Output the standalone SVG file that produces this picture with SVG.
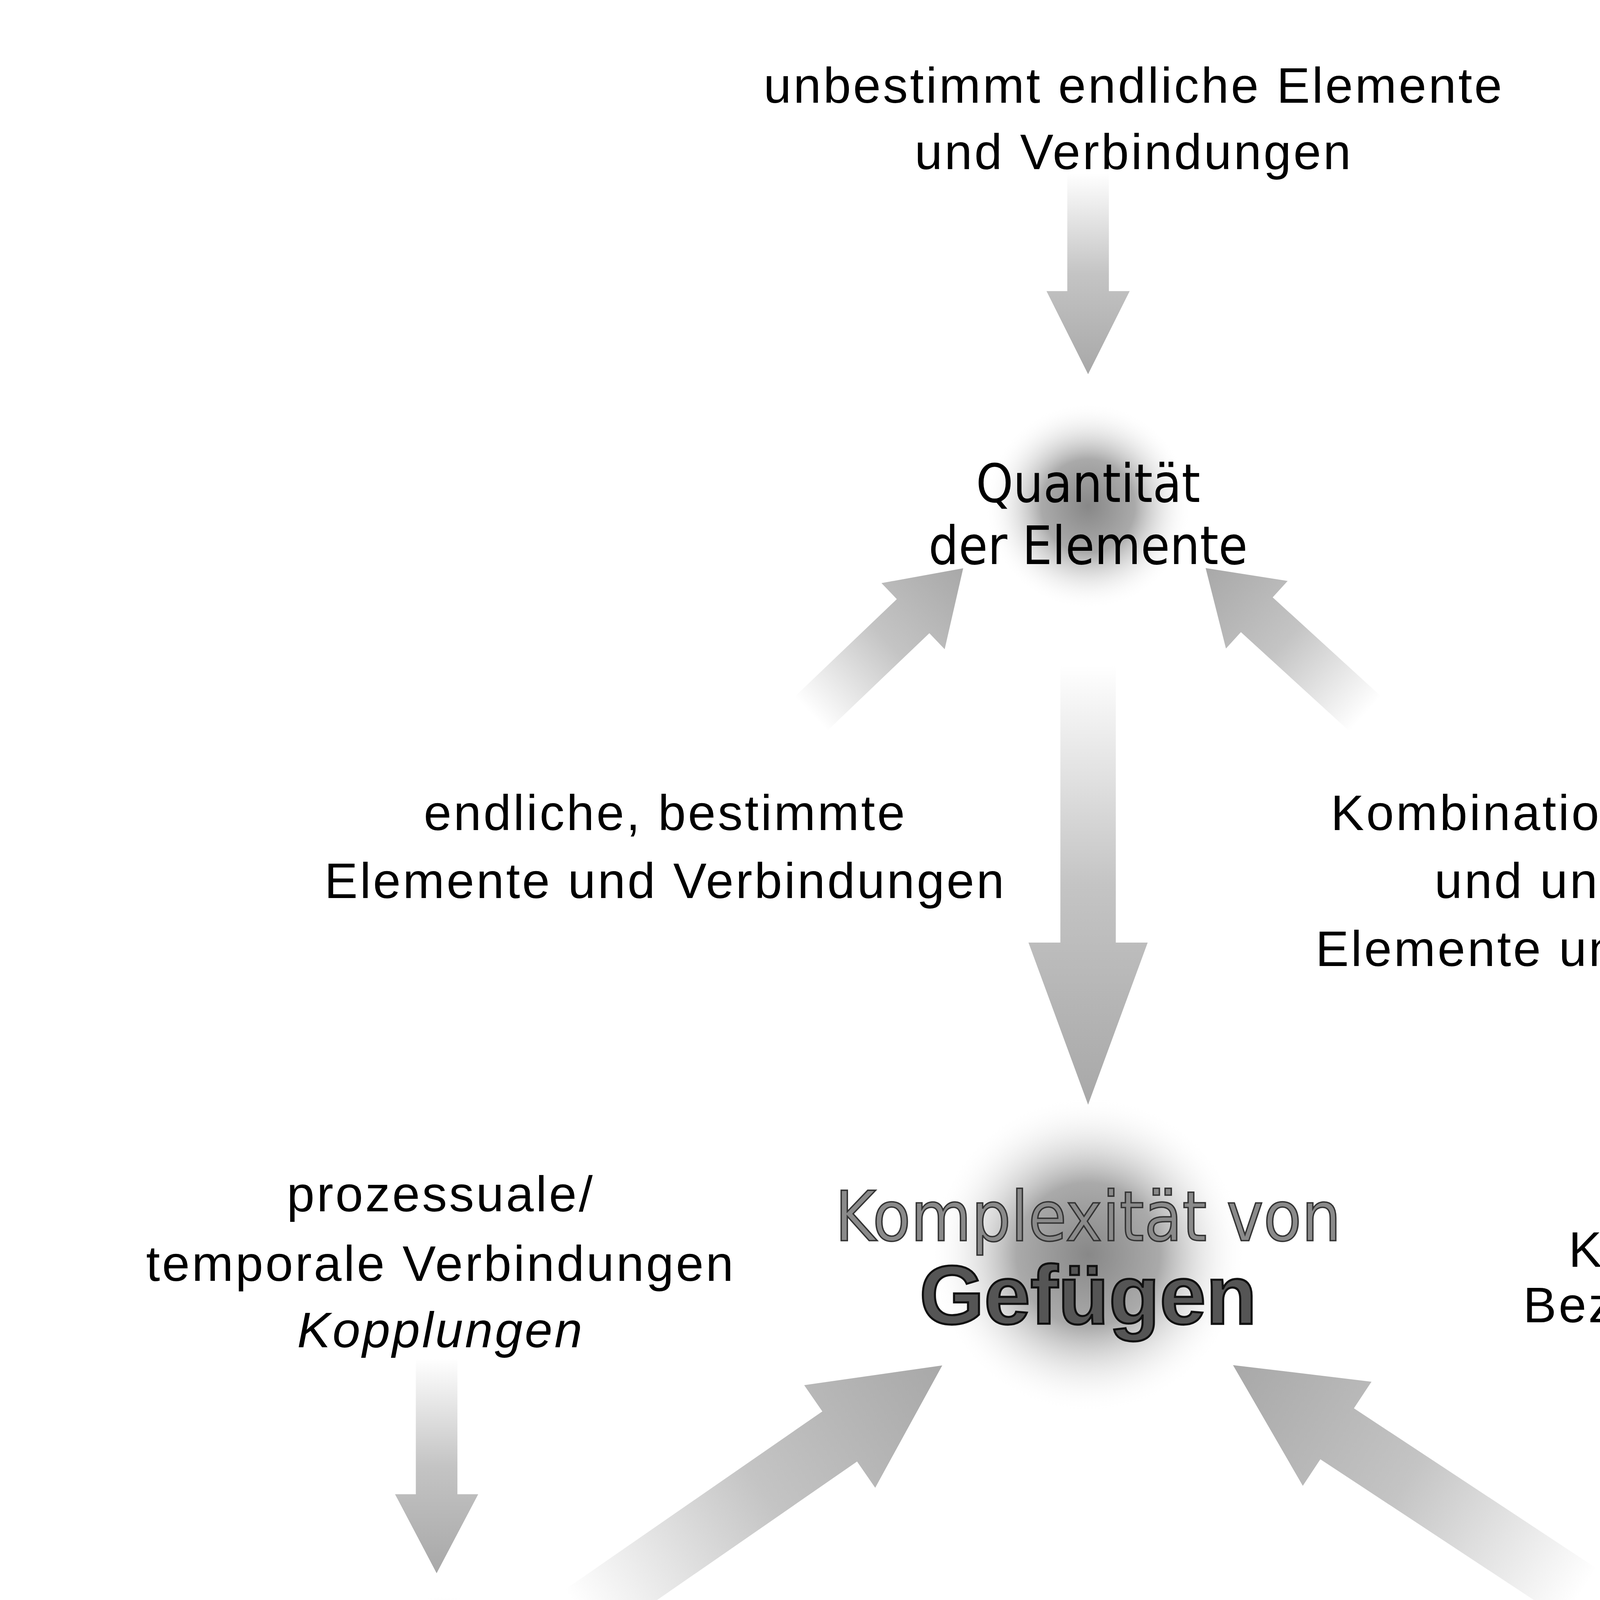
<svg xmlns="http://www.w3.org/2000/svg" width="5500" height="5500" viewBox="0 0 5500 5500">
<defs>
<linearGradient id="ag" x1="0" y1="0" x2="1" y2="0"><stop offset="0" stop-color="#fff"/><stop offset="0.5" stop-color="#c4c4c4"/><stop offset="1" stop-color="#a8a8a8"/></linearGradient>
<radialGradient id="glow"><stop offset="0" stop-color="#888"/><stop offset="0.45" stop-color="#aaa"/><stop offset="1" stop-color="#fff" stop-opacity="0"/></radialGradient>
<style>
.t{font-family:"Liberation Sans",Arial,sans-serif;font-size:36px;letter-spacing:1.5px;text-anchor:middle;fill:#000}
.n{font-family:"DejaVu Sans Condensed","Liberation Sans",sans-serif;font-size:38px;text-anchor:middle;fill:#000}
.i{font-style:italic}
.s{font-family:"Liberation Sans",Arial,sans-serif;font-size:26px;font-style:italic;letter-spacing:1px;text-anchor:middle}
.a{fill:url(#ag)}
</style>
</defs>
<rect width="5500" height="5500" fill="#fff"/>
<g transform="scale(3.5484)">
<g id="glows">
<circle cx="785" cy="365" r="75" fill="url(#glow)"/>
<circle cx="785" cy="905" r="115" fill="url(#glow)"/>
<circle cx="320" cy="1230" r="80" fill="url(#glow)"/>
<circle cx="1240" cy="1222" r="75" fill="url(#glow)"/>
</g>
<g id="connectors">
<path class="a" transform="translate(785,125) rotate(90)" d="M0,-15 L85,-15 L85,-30 L145,0 L85,30 L85,15 L0,15Z"/>
<path class="a" transform="translate(785,480) rotate(90)" d="M0,-20 L200,-20 L200,-43 L317,0 L200,43 L200,20 L0,20Z"/>
<path class="a" transform="translate(585,515) rotate(-43.7)" d="M0,-17 L102,-17 L102,-33 L152,0 L102,33 L102,17 L0,17Z"/>
<path class="a" transform="translate(985,515) rotate(-137.6)" d="M0,-17 L106,-17 L106,-33 L156,0 L106,33 L106,17 L0,17Z"/>
<path class="a" transform="translate(315,980) rotate(90)" d="M0,-15 L98,-15 L98,-30 L155,0 L98,30 L98,15 L0,15Z"/>
<path class="a" transform="translate(420,1165) rotate(-34.7)" d="M0,-22 L226,-22 L226,-45 L316,0 L226,45 L226,22 L0,22Z"/>
<path class="a" transform="translate(1140,1150) rotate(-146.6)" d="M0,-22 L210,-22 L210,-45 L300,0 L210,45 L210,22 L0,22Z"/>
<path class="a" transform="translate(1252,985) rotate(90)" d="M0,-14 L90,-14 L90,-30 L150,0 L90,30 L90,14 L0,14Z"/>
<path class="a" transform="translate(115,1380) rotate(-41)" d="M0,-16 L102,-16 L102,-32 L152,0 L102,32 L102,16 L0,16Z"/>
<path class="a" transform="translate(510,1375) rotate(-137.7)" d="M0,-16 L99,-16 L99,-32 L149,0 L99,32 L99,16 L0,16Z"/>
<path class="a" transform="translate(1060,1385) rotate(-46.3)" d="M0,-16 L102,-16 L102,-32 L152,0 L102,32 L102,16 L0,16Z"/>
<path class="a" transform="translate(1445,1385) rotate(-133.7)" d="M0,-16 L102,-16 L102,-32 L152,0 L102,32 L102,16 L0,16Z"/>
</g>
<g id="top"><text class="t" x="818" y="74">unbestimmt endliche Elemente</text><text class="t" x="818" y="122">und Verbindungen</text></g>
<g id="quantitaet"><text class="n" x="785" y="362">Quantität</text><text class="n" x="785" y="407">der Elemente</text></g>
<g id="endliche"><text class="t" x="480" y="599">endliche, bestimmte</text><text class="t" x="480" y="648">Elemente und Verbindungen</text></g>
<g id="kombination"><text class="t" x="1195" y="599">Kombination von endlichen</text><text class="t" x="1195" y="648">und unbestimmten</text><text class="t" x="1195" y="697">Elemente und Verbindungen</text></g>
<g id="komplexitaet"><text x="785" y="895" text-anchor="middle" font-family="DejaVu Sans Condensed,Liberation Sans,sans-serif" font-size="50" fill="#8a8a8a" stroke="#333" stroke-width="1">Komplexität von</text><text x="785" y="955" text-anchor="middle" font-family="Liberation Sans,Arial,sans-serif" font-weight="bold" font-size="60" fill="#555" stroke="#111" stroke-width="1.5">Gefügen</text></g>
<g id="prozessuale"><text class="t" x="318" y="874">prozessuale/</text><text class="t" x="318" y="924">temporale Verbindungen</text><text class="t i" x="318" y="972">Kopplungen</text></g>
<g id="qualitaet"><text class="n" x="322" y="1210">Qualität</text><text class="n" x="322" y="1256">z.B. kosmologisch</text></g>
<g id="komponenten"><text class="t" x="1252" y="914">Komponenten</text><text class="t" x="1252" y="954">Beziehungszellen</text><text class="s" x="1345" y="1039">Elemente</text></g>
<g id="komposition"><text class="n" x="1252" y="1236">Komposition</text></g>
<g id="dingliche"><text class="t" x="157" y="1429">dingliche</text><text class="t" x="163" y="1478">Verbindungen</text><text class="t i" x="163" y="1526">Konnexion</text></g>
<g id="raeumliche"><text class="t" x="560" y="1429">räumliche</text><text class="t" x="566" y="1478">Verbindungen</text><text class="t i" x="566" y="1526">Beziehungen</text></g>
<g id="ebenen"><text class="s" x="1010" y="1321">Ebenen</text><text class="s" x="1318" y="1359">Beziehungen</text></g>
<g id="emergenz"><text class="t" x="1016" y="1445">Emergenztypen</text></g>
<g id="horizontal"><text class="t" x="1412" y="1442">horizontal,</text><text class="t" x="1412" y="1492">vertikal</text></g>
<g id="copyright"><text transform="translate(1510,310) rotate(-90)" text-anchor="middle" font-family="DejaVu Sans,sans-serif" font-weight="bold" font-size="27" letter-spacing="1.5" fill="#999">©Michael Giesecke 2025</text></g>
</g>
</svg>
